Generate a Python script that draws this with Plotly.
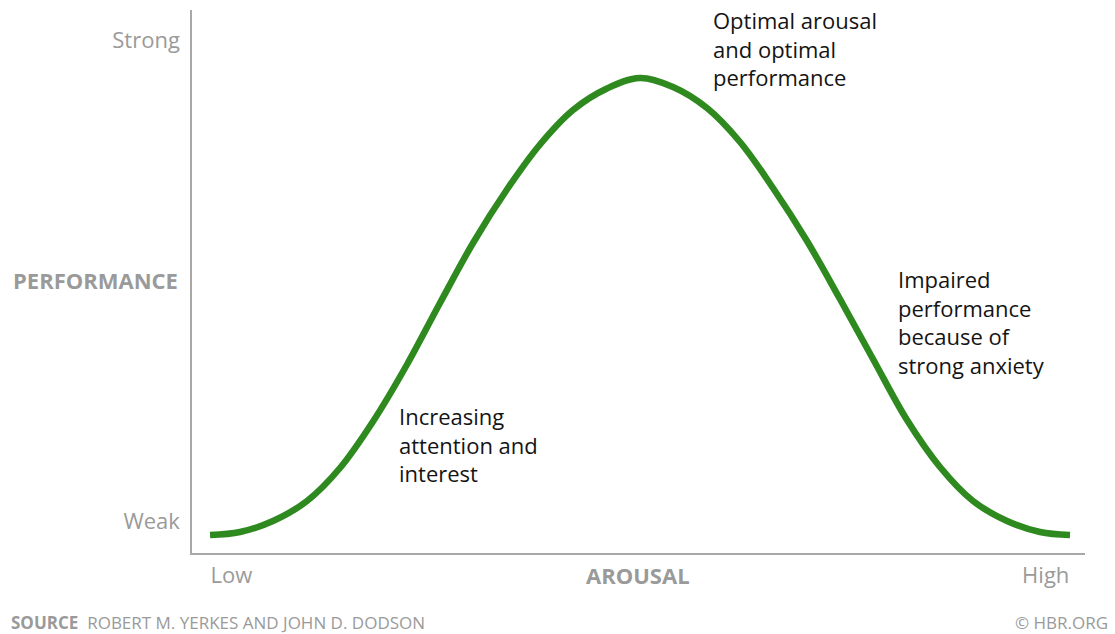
import plotly.graph_objects as go

# Curve (arousal 0-100, performance 0-100)
arousal = [2.02, 5.38, 9.07, 12.88, 16.57, 20.27, 24.08, 27.77, 31.47, 35.27, 38.97,
           42.67, 46.47, 50.17, 53.86, 57.67, 61.37, 65.06, 68.87, 72.56, 76.26,
           80.07, 83.76, 87.46, 91.27, 94.96, 98.32]
performance = [3.31, 3.87, 5.89, 9.58, 15.65, 24.22, 34.71, 46.04, 57.09, 66.94, 75.23,
               81.58, 85.54, 87.48, 85.82, 81.95, 75.69, 67.22, 57.46, 46.78, 35.73,
               24.49, 15.84, 9.58, 5.89, 3.87, 3.31]

y_tick_vals = [5.9, 94.5]
y_tick_text = ["Weak", "Strong"]
x_tick_vals = [4.4, 95.6]
x_tick_text = ["Low", "High"]

GRAY = "#9a9a9a"
GREEN = "#2e8a1e"
FONT = "Open Sans"

W, H = 1115, 634
L, R, T, B = 192, 1085, 10, 553


def px(x):
    return (x - L) / (R - L)


def py(y):
    return (B - y) / (B - T)


fig = go.Figure()
fig.add_trace(go.Scatter(x=arousal, y=performance, mode="lines",
                         line=dict(color=GREEN, width=6.5, shape="spline", smoothing=1.0),
                         hoverinfo="skip", showlegend=False))

fig.update_layout(
    width=W, height=H,
    margin=dict(l=L, r=W - R, t=T, b=H - B),
    paper_bgcolor="white", plot_bgcolor="white",
    font=dict(family=FONT, color=GRAY, size=22),
    xaxis=dict(range=[0, 100], showgrid=False, zeroline=False, showline=True,
               linecolor="#a8a8a8", linewidth=1.5, tickvals=x_tick_vals,
               ticktext=x_tick_text, ticks="", ticklabelstandoff=2,
               tickfont=dict(size=22, color=GRAY, family=FONT)),
    yaxis=dict(range=[0, 100], showgrid=False, zeroline=False, showline=True,
               linecolor="#a8a8a8", linewidth=1.5, tickvals=y_tick_vals,
               ticktext=y_tick_text, ticks="", ticklabelstandoff=6,
               tickfont=dict(size=22, color=GRAY, family=FONT)),
)

ann = []
# axis titles
ann.append(dict(x=px(95), y=py(280), text="<b>PERFORMANCE</b>", xanchor="center",
                yanchor="middle", font=dict(size=22, color=GRAY, family=FONT)))
ann.append(dict(x=px(638), y=py(575), text="<b>AROUSAL</b>", xanchor="center",
                yanchor="middle", font=dict(size=22, color=GRAY, family=FONT)))
# callouts
callouts = [
    (711, 48, "Optimal arousal<br>and optimal<br>performance"),
    (896, 322, "Impaired<br>performance<br>because of<br>strong anxiety"),
    (397, 444, "Increasing<br>attention and<br>interest"),
]
for x0, y0, t in callouts:
    ann.append(dict(x=px(x0), y=py(y0), text=t, xanchor="left", yanchor="middle",
                    align="left", font=dict(size=22, color="#141414", family=FONT)))
# footer
ann.append(dict(x=px(9), y=py(622), text="<b>SOURCE</b>  ROBERT M. YERKES AND JOHN D. DODSON",
                xanchor="left", yanchor="middle",
                font=dict(size=17, color=GRAY, family=FONT)))
ann.append(dict(x=px(1110), y=py(622), text="© HBR.ORG", xanchor="right", yanchor="middle",
                font=dict(size=17, color=GRAY, family=FONT)))

for a in ann:
    a.update(xref="paper", yref="paper", showarrow=False)
fig.update_layout(annotations=ann)

fig.write_html("out.html", config={"displayModeBar": False},
               post_script="document.body.style.margin='0';document.body.style.overflow='hidden';")
